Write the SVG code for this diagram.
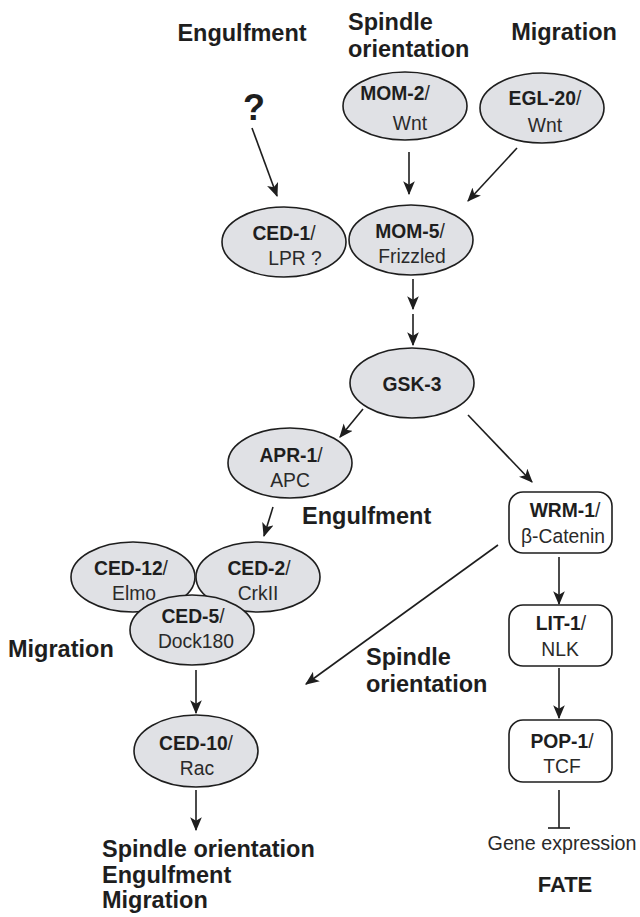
<svg xmlns="http://www.w3.org/2000/svg" width="640" height="917" viewBox="0 0 640 917">
<style>
.lbl{font-family:"Liberation Sans",Arial,sans-serif;font-weight:bold;font-size:23.5px;fill:#1e1e1e}
.nt{font-family:"Liberation Sans",Arial,sans-serif;font-size:19.3px;fill:#2a2a2a;text-anchor:middle}
.b{font-weight:bold;fill:#1e1e1e}
.ell{fill:#e0e1e5;stroke:#1e1e1e;stroke-width:1.6}
.box{fill:#ffffff;stroke:#1e1e1e;stroke-width:1.6}
.con{fill:none;stroke:#1e1e1e;stroke-width:1.6}
.arr{marker-end:url(#ah)}
</style>
<defs>
<marker id="ah" viewBox="0 0 12 10" refX="11" refY="5" markerWidth="14" markerHeight="12" orient="auto" markerUnits="userSpaceOnUse">
<path d="M0,0 L12,5 L0,10 L3,5 z" fill="#1e1e1e"/>
</marker>
</defs>
<rect width="640" height="917" fill="#ffffff"/>

<g id="labels">
<text class="lbl" x="242" y="41" text-anchor="middle">Engulfment</text>
<text class="lbl" x="348" y="30">Spindle</text>
<text class="lbl" x="348" y="57">orientation</text>
<text class="lbl" x="564" y="40" text-anchor="middle">Migration</text>
<text class="lbl" x="254" y="120" text-anchor="middle" style="font-size:36px">?</text>
<text class="lbl" x="302" y="524">Engulfment</text>
<text class="lbl" x="8" y="657">Migration</text>
<text class="lbl" x="366" y="665">Spindle</text>
<text class="lbl" x="366" y="692">orientation</text>
<text class="lbl" x="102" y="857">Spindle orientation</text>
<text class="lbl" x="102" y="883">Engulfment</text>
<text class="lbl" x="102" y="908">Migration</text>
<text class="nt" x="562" y="850" style="font-size:19.7px">Gene expression</text>
<text class="lbl" x="565" y="892" text-anchor="middle" style="font-size:22px">FATE</text>
</g>

<g id="connectors">
<line class="con arr" x1="252" y1="128" x2="277" y2="196"/>
<line class="con arr" x1="409" y1="152" x2="409" y2="194"/>
<line class="con arr" x1="517" y1="148" x2="468" y2="201"/>
<line class="con arr" x1="413" y1="279" x2="413" y2="309"/>
<line class="con arr" x1="413" y1="314" x2="413" y2="345"/>
<line class="con arr" x1="363" y1="409" x2="340" y2="437"/>
<line class="con arr" x1="468" y1="415" x2="532" y2="482"/>
<line class="con arr" x1="273" y1="507" x2="264" y2="536"/>
<line class="con arr" x1="498" y1="545" x2="306" y2="684"/>
<line class="con arr" x1="196" y1="670" x2="196" y2="713"/>
<line class="con arr" x1="196" y1="790" x2="196" y2="830"/>
<line class="con arr" x1="559" y1="557" x2="559" y2="604"/>
<line class="con arr" x1="559" y1="668" x2="559" y2="718"/>
<line class="con" x1="559" y1="790" x2="559" y2="828"/>
<line class="con" x1="548" y1="828" x2="570" y2="828"/>
</g>

<g id="mom2">
<ellipse class="ell" cx="405" cy="106" rx="62" ry="34"/>
<text class="nt" x="395" y="100"><tspan class="b">MOM-2</tspan>/</text>
<text class="nt" x="410" y="130">Wnt</text>
</g>
<g id="egl20">
<ellipse class="ell" cx="542" cy="108" rx="62" ry="35"/>
<text class="nt" x="545" y="105"><tspan class="b">EGL-20</tspan>/</text>
<text class="nt" x="545" y="132">Wnt</text>
</g>
<g id="ced1">
<ellipse class="ell" cx="284" cy="242" rx="62" ry="35"/>
<text class="nt" x="284" y="240"><tspan class="b">CED-1</tspan>/</text>
<text class="nt" x="295" y="265">LPR ?</text>
</g>
<g id="mom5">
<ellipse class="ell" cx="411" cy="240" rx="62" ry="35"/>
<text class="nt" x="410" y="238"><tspan class="b">MOM-5</tspan>/</text>
<text class="nt" x="412" y="263">Frizzled</text>
</g>
<g id="gsk3">
<ellipse class="ell" cx="412" cy="383" rx="62" ry="35"/>
<text class="nt" x="412" y="391"><tspan class="b">GSK-3</tspan></text>
</g>
<g id="apr1">
<ellipse class="ell" cx="290" cy="463" rx="62" ry="35"/>
<text class="nt" x="291" y="462"><tspan class="b">APR-1</tspan>/</text>
<text class="nt" x="290" y="487">APC</text>
</g>
<g id="ced12">
<ellipse class="ell" cx="133" cy="577" rx="62" ry="35"/>
<text class="nt" x="131" y="575"><tspan class="b">CED-12</tspan>/</text>
<text class="nt" x="134" y="600">Elmo</text>
</g>
<g id="ced2">
<ellipse class="ell" cx="258" cy="577" rx="62" ry="35"/>
<text class="nt" x="259" y="575"><tspan class="b">CED-2</tspan>/</text>
<text class="nt" x="258" y="600">CrkII</text>
</g>
<g id="ced5">
<ellipse class="ell" cx="192" cy="630" rx="62" ry="35"/>
<text class="nt" x="193" y="623"><tspan class="b">CED-5</tspan>/</text>
<text class="nt" x="196" y="648">Dock180</text>
</g>
<g id="ced10">
<ellipse class="ell" cx="196" cy="751" rx="62" ry="36"/>
<text class="nt" x="196" y="750"><tspan class="b">CED-10</tspan>/</text>
<text class="nt" x="197" y="775">Rac</text>
</g>
<g id="wrm1">
<rect class="box" x="509" y="492" width="103" height="61" rx="14"/>
<text class="nt" x="565" y="517"><tspan class="b">WRM-1</tspan>/</text>
<text class="nt" x="563" y="543">β-Catenin</text>
</g>
<g id="lit1">
<rect class="box" x="509" y="605" width="103" height="61" rx="14"/>
<text class="nt" x="561" y="630"><tspan class="b">LIT-1</tspan>/</text>
<text class="nt" x="560" y="656">NLK</text>
</g>
<g id="pop1">
<rect class="box" x="509" y="720" width="103" height="62" rx="14"/>
<text class="nt" x="562" y="748"><tspan class="b">POP-1</tspan>/</text>
<text class="nt" x="562" y="773">TCF</text>
</g>
</svg>
